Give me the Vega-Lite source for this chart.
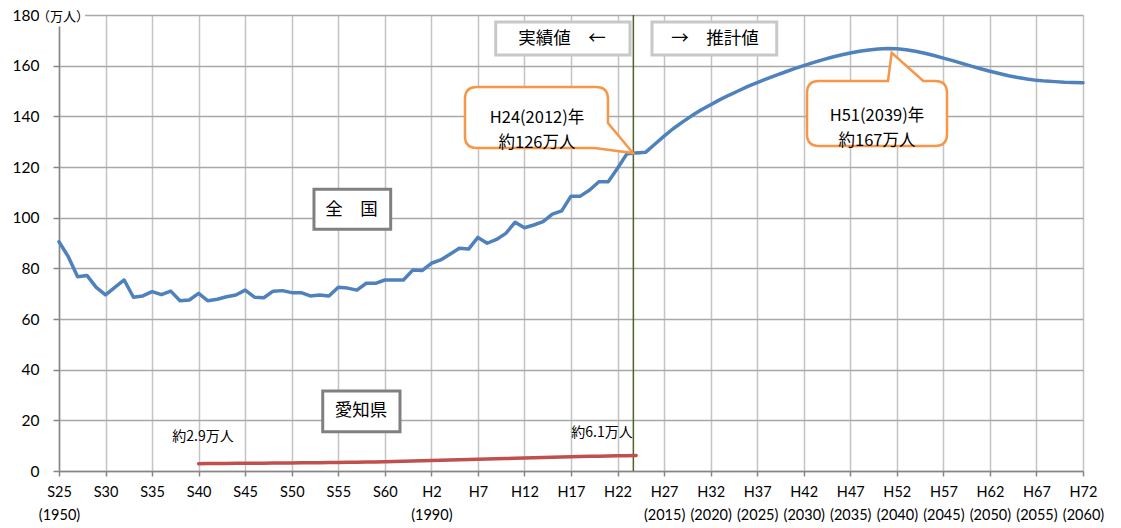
{
  "$schema": "https://vega.github.io/schema/vega-lite/v6.json",
  "width": 1024,
  "height": 456,
  "autosize": "none",
  "padding": {"left": 59, "top": 15, "right": 38, "bottom": 57},
  "background": "white",
  "config": {"view": {"stroke": null}, "font": "Noto Sans CJK JP"},
  "datasets": {
    "pop": [
      {"year":1950,"value":90.5,"series":"全国"},{"year":1951,"value":84.6,"series":"全国"},{"year":1952,"value":76.7,"series":"全国"},{"year":1953,"value":77.2,"series":"全国"},{"year":1954,"value":72.5,"series":"全国"},
      {"year":1955,"value":69.5,"series":"全国"},{"year":1956,"value":72.5,"series":"全国"},{"year":1957,"value":75.4,"series":"全国"},{"year":1958,"value":68.6,"series":"全国"},{"year":1959,"value":69.1,"series":"全国"},
      {"year":1960,"value":70.8,"series":"全国"},{"year":1961,"value":69.6,"series":"全国"},{"year":1962,"value":71.0,"series":"全国"},{"year":1963,"value":67.2,"series":"全国"},{"year":1964,"value":67.5,"series":"全国"},
      {"year":1965,"value":70.1,"series":"全国"},{"year":1966,"value":67.2,"series":"全国"},{"year":1967,"value":67.8,"series":"全国"},{"year":1968,"value":68.8,"series":"全国"},{"year":1969,"value":69.5,"series":"全国"},
      {"year":1970,"value":71.4,"series":"全国"},{"year":1971,"value":68.6,"series":"全国"},{"year":1972,"value":68.4,"series":"全国"},{"year":1973,"value":71.0,"series":"全国"},{"year":1974,"value":71.2,"series":"全国"},
      {"year":1975,"value":70.4,"series":"全国"},{"year":1976,"value":70.4,"series":"全国"},{"year":1977,"value":69.1,"series":"全国"},{"year":1978,"value":69.5,"series":"全国"},{"year":1979,"value":69.1,"series":"全国"},
      {"year":1980,"value":72.5,"series":"全国"},{"year":1981,"value":72.2,"series":"全国"},{"year":1982,"value":71.4,"series":"全国"},{"year":1983,"value":74.1,"series":"全国"},{"year":1984,"value":74.1,"series":"全国"},
      {"year":1985,"value":75.4,"series":"全国"},{"year":1986,"value":75.4,"series":"全国"},{"year":1987,"value":75.4,"series":"全国"},{"year":1988,"value":79.3,"series":"全国"},{"year":1989,"value":79.1,"series":"全国"},
      {"year":1990,"value":82.0,"series":"全国"},{"year":1991,"value":83.3,"series":"全国"},{"year":1992,"value":85.6,"series":"全国"},{"year":1993,"value":87.9,"series":"全国"},{"year":1994,"value":87.6,"series":"全国"},
      {"year":1995,"value":92.2,"series":"全国"},{"year":1996,"value":89.9,"series":"全国"},{"year":1997,"value":91.4,"series":"全国"},{"year":1998,"value":93.8,"series":"全国"},{"year":1999,"value":98.2,"series":"全国"},
      {"year":2000,"value":96.0,"series":"全国"},{"year":2001,"value":97.1,"series":"全国"},{"year":2002,"value":98.4,"series":"全国"},{"year":2003,"value":101.4,"series":"全国"},{"year":2004,"value":102.7,"series":"全国"},
      {"year":2005,"value":108.5,"series":"全国"},{"year":2006,"value":108.5,"series":"全国"},{"year":2007,"value":110.9,"series":"全国"},{"year":2008,"value":114.2,"series":"全国"},{"year":2009,"value":114.2,"series":"全国"},
      {"year":2010,"value":119.5,"series":"全国"},{"year":2011,"value":125.2,"series":"全国"},{"year":2012,"value":125.5,"series":"全国"},{"year":2013,"value":125.8,"series":"全国"},{"year":2014,"value":129.0,"series":"全国"},
      {"year":2015,"value":132.2,"series":"全国"},{"year":2016,"value":135.2,"series":"全国"},{"year":2017,"value":137.8,"series":"全国"},{"year":2018,"value":140.3,"series":"全国"},{"year":2019,"value":142.6,"series":"全国"},
      {"year":2020,"value":144.6,"series":"全国"},{"year":2021,"value":146.6,"series":"全国"},{"year":2022,"value":148.4,"series":"全国"},{"year":2023,"value":150.1,"series":"全国"},{"year":2024,"value":151.8,"series":"全国"},
      {"year":2025,"value":153.3,"series":"全国"},{"year":2026,"value":154.8,"series":"全国"},{"year":2027,"value":156.2,"series":"全国"},{"year":2028,"value":157.5,"series":"全国"},{"year":2029,"value":158.8,"series":"全国"},
      {"year":2030,"value":160.0,"series":"全国"},{"year":2031,"value":161.2,"series":"全国"},{"year":2032,"value":162.3,"series":"全国"},{"year":2033,"value":163.3,"series":"全国"},{"year":2034,"value":164.2,"series":"全国"},
      {"year":2035,"value":165.0,"series":"全国"},{"year":2036,"value":165.7,"series":"全国"},{"year":2037,"value":166.2,"series":"全国"},{"year":2038,"value":166.6,"series":"全国"},{"year":2039,"value":166.8,"series":"全国"},
      {"year":2040,"value":166.7,"series":"全国"},{"year":2041,"value":166.3,"series":"全国"},{"year":2042,"value":165.7,"series":"全国"},{"year":2043,"value":164.9,"series":"全国"},{"year":2044,"value":164.0,"series":"全国"},
      {"year":2045,"value":163.0,"series":"全国"},{"year":2046,"value":162.0,"series":"全国"},{"year":2047,"value":160.9,"series":"全国"},{"year":2048,"value":159.8,"series":"全国"},{"year":2049,"value":158.8,"series":"全国"},
      {"year":2050,"value":157.8,"series":"全国"},{"year":2051,"value":156.9,"series":"全国"},{"year":2052,"value":156.0,"series":"全国"},{"year":2053,"value":155.3,"series":"全国"},{"year":2054,"value":154.7,"series":"全国"},
      {"year":2055,"value":154.2,"series":"全国"},{"year":2056,"value":153.9,"series":"全国"},{"year":2057,"value":153.7,"series":"全国"},{"year":2058,"value":153.5,"series":"全国"},{"year":2059,"value":153.4,"series":"全国"},
      {"year":2060,"value":153.3,"series":"全国"},
      {"year":1965,"value":2.9,"series":"愛知県"},{"year":1966,"value":2.95,"series":"愛知県"},{"year":1967,"value":3.0,"series":"愛知県"},{"year":1968,"value":3.0,"series":"愛知県"},{"year":1969,"value":3.05,"series":"愛知県"},
      {"year":1970,"value":3.1,"series":"愛知県"},{"year":1971,"value":3.1,"series":"愛知県"},{"year":1972,"value":3.1,"series":"愛知県"},{"year":1973,"value":3.15,"series":"愛知県"},{"year":1974,"value":3.2,"series":"愛知県"},
      {"year":1975,"value":3.2,"series":"愛知県"},{"year":1976,"value":3.25,"series":"愛知県"},{"year":1977,"value":3.3,"series":"愛知県"},{"year":1978,"value":3.3,"series":"愛知県"},{"year":1979,"value":3.35,"series":"愛知県"},
      {"year":1980,"value":3.4,"series":"愛知県"},{"year":1981,"value":3.45,"series":"愛知県"},{"year":1982,"value":3.5,"series":"愛知県"},{"year":1983,"value":3.55,"series":"愛知県"},{"year":1984,"value":3.6,"series":"愛知県"},
      {"year":1985,"value":3.7,"series":"愛知県"},{"year":1986,"value":3.75,"series":"愛知県"},{"year":1987,"value":3.8,"series":"愛知県"},{"year":1988,"value":3.9,"series":"愛知県"},{"year":1989,"value":4.0,"series":"愛知県"},
      {"year":1990,"value":4.1,"series":"愛知県"},{"year":1991,"value":4.2,"series":"愛知県"},{"year":1992,"value":4.3,"series":"愛知県"},{"year":1993,"value":4.4,"series":"愛知県"},{"year":1994,"value":4.5,"series":"愛知県"},
      {"year":1995,"value":4.6,"series":"愛知県"},{"year":1996,"value":4.7,"series":"愛知県"},{"year":1997,"value":4.8,"series":"愛知県"},{"year":1998,"value":4.9,"series":"愛知県"},{"year":1999,"value":5.0,"series":"愛知県"},
      {"year":2000,"value":5.1,"series":"愛知県"},{"year":2001,"value":5.2,"series":"愛知県"},{"year":2002,"value":5.3,"series":"愛知県"},{"year":2003,"value":5.4,"series":"愛知県"},{"year":2004,"value":5.5,"series":"愛知県"},
      {"year":2005,"value":5.6,"series":"愛知県"},{"year":2006,"value":5.7,"series":"愛知県"},{"year":2007,"value":5.8,"series":"愛知県"},{"year":2008,"value":5.85,"series":"愛知県"},{"year":2009,"value":5.9,"series":"愛知県"},
      {"year":2010,"value":6.0,"series":"愛知県"},{"year":2011,"value":6.05,"series":"愛知県"},{"year":2012,"value":6.1,"series":"愛知県"}
    ],
    "darkBoxes": [
      {"year":1977.39,"year2":1985.63,"value":111.2,"value2":95.4},
      {"year":1978.33,"year2":1986.63,"value":31.58,"value2":15.51}
    ],
    "lightBoxes": [
      {"year":1996.91,"year2":2011.34,"value":177.24,"value2":164.21},
      {"year":2013.70,"year2":2027.10,"value":177.24,"value2":164.21}
    ],
    "boxText": [
      {"year":1981.42,"value":103.2,"text":"全　国"},
      {"year":1982.44,"value":23.68,"text":"愛知県"},
      {"year":2004.03,"value":170.5,"text":"実績値　←"},
      {"year":2020.47,"value":170.5,"text":"→　推計値"}
    ],
    "smallText": [
      {"year":1965.47,"value":13.54,"text":"約2.9万人"},
      {"year":2008.33,"value":14.88,"text":"約6.1万人"}
    ],
    "calloutText": [
      {"year":2001.35,"value":139.3,"text":["H24(2012)年","約126万人"]},
      {"year":2037.87,"value":140.2,"text":["H51(2039)年","約167万人"]}
    ]
  },
  "layer": [
    {
      "data": {"values": [{"year": 2011.7}]},
      "mark": {"type": "rule", "color": "#4f6228", "strokeWidth": 1.5},
      "encoding": {
        "x": {"field": "year", "type": "quantitative", "scale": {"domain": [1950, 2060], "nice": false, "zero": false}}
      }
    },
    {
      "data": {"name": "pop"},
      "mark": {"type": "line", "strokeWidth": 3.5, "strokeJoin": "round", "strokeCap": "round"},
      "encoding": {
        "x": {
          "field": "year", "type": "quantitative",
          "scale": {"domain": [1950, 2060], "nice": false, "zero": false},
          "axis": {
            "title": null,
            "values": [1950,1952.5,1955,1957.5,1960,1962.5,1965,1967.5,1970,1972.5,1975,1977.5,1980,1982.5,1985,1987.5,1990,1992.5,1995,1997.5,2000,2002.5,2005,2007.5,2010,2012.5,2015,2017.5,2020,2022.5,2025,2027.5,2030,2032.5,2035,2037.5,2040,2042.5,2045,2047.5,2050,2052.5,2055,2057.5,2060],
            "labelExpr": "datum.value % 5 != 0 ? '' : [ (datum.value < 1989 ? 'S' + (datum.value - 1925) : 'H' + (datum.value - 1988)), ((datum.value == 1950 || datum.value == 1990 || datum.value >= 2015) ? '(' + datum.value + ')' : '') ]",
            "labelFont": "Lato", "labelFontSize": 14.5, "labelColor": "#000000",
            "labelFlush": false, "labelOverlap": false, "labelPadding": 9, "labelLineHeight": 23,
            "labelBaseline": "top",
            "grid": true, "gridColor": "#c4c4c4", "gridWidth": 1.5,
            "domainColor": "#868686", "domainWidth": 1.5,
            "tickColor": "#868686", "tickSize": 5, "tickWidth": 1.5,
            "tickOpacity": {"condition": {"test": "datum.value % 5 == 0", "value": 1}, "value": 0}
          }
        },
        "y": {
          "field": "value", "type": "quantitative",
          "scale": {"domain": [0, 180], "nice": false, "zero": true},
          "axis": {
            "title": null,
            "values": [0,20,40,60,80,100,120,140,160,180],
            "labelFont": "Lato", "labelFontSize": 15.5, "labelColor": "#000000", "labelPadding": 14,
            "grid": true, "gridColor": "#a8a8a8", "gridWidth": 1.5,
            "domainColor": "#868686", "domainWidth": 1.5,
            "tickColor": "#868686", "tickSize": 6, "tickWidth": 1.5
          }
        },
        "color": {"field": "series", "type": "nominal", "scale": {"domain": ["全国", "愛知県"], "range": ["#4F81BD", "#C0504D"]}, "legend": null}
      }
    },
    {
      "data": {"values": [{"year": 1947.9, "year2": 1952.8, "value": 181.3, "value2": 175.5}]},
      "mark": {"type": "rect", "fill": "white", "stroke": null},
      "encoding": {
        "x": {"field": "year", "type": "quantitative", "scale": {"domain": [1950, 2060], "nice": false, "zero": false}},
        "x2": {"field": "year2"},
        "y": {"field": "value", "type": "quantitative", "scale": {"domain": [0, 180], "nice": false, "zero": true}},
        "y2": {"field": "value2"}
      }
    },
    {
      "data": {"values": [{"year": 1950, "value": 180, "text": "（万人）"}]},
      "mark": {"type": "text", "align": "left", "baseline": "middle", "dx": -22, "dy": 2, "fontSize": 13, "fill": "#000000", "font": "Noto Sans CJK JP"},
      "encoding": {
        "x": {"field": "year", "type": "quantitative", "scale": {"domain": [1950, 2060], "nice": false, "zero": false}},
        "y": {"field": "value", "type": "quantitative", "scale": {"domain": [0, 180], "nice": false, "zero": true}},
        "text": {"field": "text"}
      }
    },
    {
      "data": {"name": "darkBoxes"},
      "mark": {"type": "rect", "fill": "white", "stroke": "#808080", "strokeWidth": 3},
      "encoding": {
        "x": {"field": "year", "type": "quantitative", "scale": {"domain": [1950, 2060], "nice": false, "zero": false}},
        "x2": {"field": "year2"},
        "y": {"field": "value", "type": "quantitative", "scale": {"domain": [0, 180], "nice": false, "zero": true}},
        "y2": {"field": "value2"}
      }
    },
    {
      "data": {"name": "lightBoxes"},
      "mark": {"type": "rect", "fill": "white", "stroke": "#c8c8c8", "strokeWidth": 3},
      "encoding": {
        "x": {"field": "year", "type": "quantitative", "scale": {"domain": [1950, 2060], "nice": false, "zero": false}},
        "x2": {"field": "year2"},
        "y": {"field": "value", "type": "quantitative", "scale": {"domain": [0, 180], "nice": false, "zero": true}},
        "y2": {"field": "value2"}
      }
    },
    {
      "data": {"name": "boxText"},
      "mark": {"type": "text", "align": "center", "baseline": "middle", "fontSize": 17.5, "fill": "#000000", "font": "Noto Sans CJK JP"},
      "encoding": {
        "x": {"field": "year", "type": "quantitative", "scale": {"domain": [1950, 2060], "nice": false, "zero": false}},
        "y": {"field": "value", "type": "quantitative", "scale": {"domain": [0, 180], "nice": false, "zero": true}},
        "text": {"field": "text"}
      }
    },
    {
      "data": {"name": "smallText"},
      "mark": {"type": "text", "align": "center", "baseline": "middle", "fontSize": 14, "fill": "#000000", "font": "Noto Sans CJK JP"},
      "encoding": {
        "x": {"field": "year", "type": "quantitative", "scale": {"domain": [1950, 2060], "nice": false, "zero": false}},
        "y": {"field": "value", "type": "quantitative", "scale": {"domain": [0, 180], "nice": false, "zero": true}},
        "text": {"field": "text"}
      }
    },
    {
      "data": {"values": [{"year": 2001.29, "value": 139.54}]},
      "mark": {"type": "point", "filled": true, "fill": "white", "stroke": "#F79646", "strokeWidth": 2.5, "opacity": 1, "fillOpacity": 1, "size": 4,
        "shape": "M -59.5 -30.5 L 59.5 -30.5 Q 71.5 -30.5 71.5 -18.5 L 71.5 5.5 L 96.5 35.5 L 58 30.5 L -59.5 30.5 Q -71.5 30.5 -71.5 18.5 L -71.5 -18.5 Q -71.5 -30.5 -59.5 -30.5 Z"},
      "encoding": {
        "x": {"field": "year", "type": "quantitative", "scale": {"domain": [1950, 2060], "nice": false, "zero": false}},
        "y": {"field": "value", "type": "quantitative", "scale": {"domain": [0, 180], "nice": false, "zero": true}}
      }
    },
    {
      "data": {"values": [{"year": 2037.87, "value": 141.12}]},
      "mark": {"type": "point", "filled": true, "fill": "white", "stroke": "#F79646", "strokeWidth": 2.5, "opacity": 1, "fillOpacity": 1, "size": 4,
        "shape": "M -58 -32.5 L 11 -32.5 L 14.7 -60.8 L 46.3 -32.5 L 58 -32.5 Q 70 -32.5 70 -20.5 L 70 20.5 Q 70 32.5 58 32.5 L -58 32.5 Q -70 32.5 -70 20.5 L -70 -20.5 Q -70 -32.5 -58 -32.5 Z"},
      "encoding": {
        "x": {"field": "year", "type": "quantitative", "scale": {"domain": [1950, 2060], "nice": false, "zero": false}},
        "y": {"field": "value", "type": "quantitative", "scale": {"domain": [0, 180], "nice": false, "zero": true}}
      }
    },
    {
      "data": {"name": "calloutText"},
      "mark": {"type": "text", "align": "center", "baseline": "middle", "fontSize": 16.5, "lineHeight": 25, "fill": "#000000", "font": "Noto Sans CJK JP"},
      "encoding": {
        "x": {"field": "year", "type": "quantitative", "scale": {"domain": [1950, 2060], "nice": false, "zero": false}},
        "y": {"field": "value", "type": "quantitative", "scale": {"domain": [0, 180], "nice": false, "zero": true}},
        "text": {"field": "text"}
      }
    }
  ]
}
